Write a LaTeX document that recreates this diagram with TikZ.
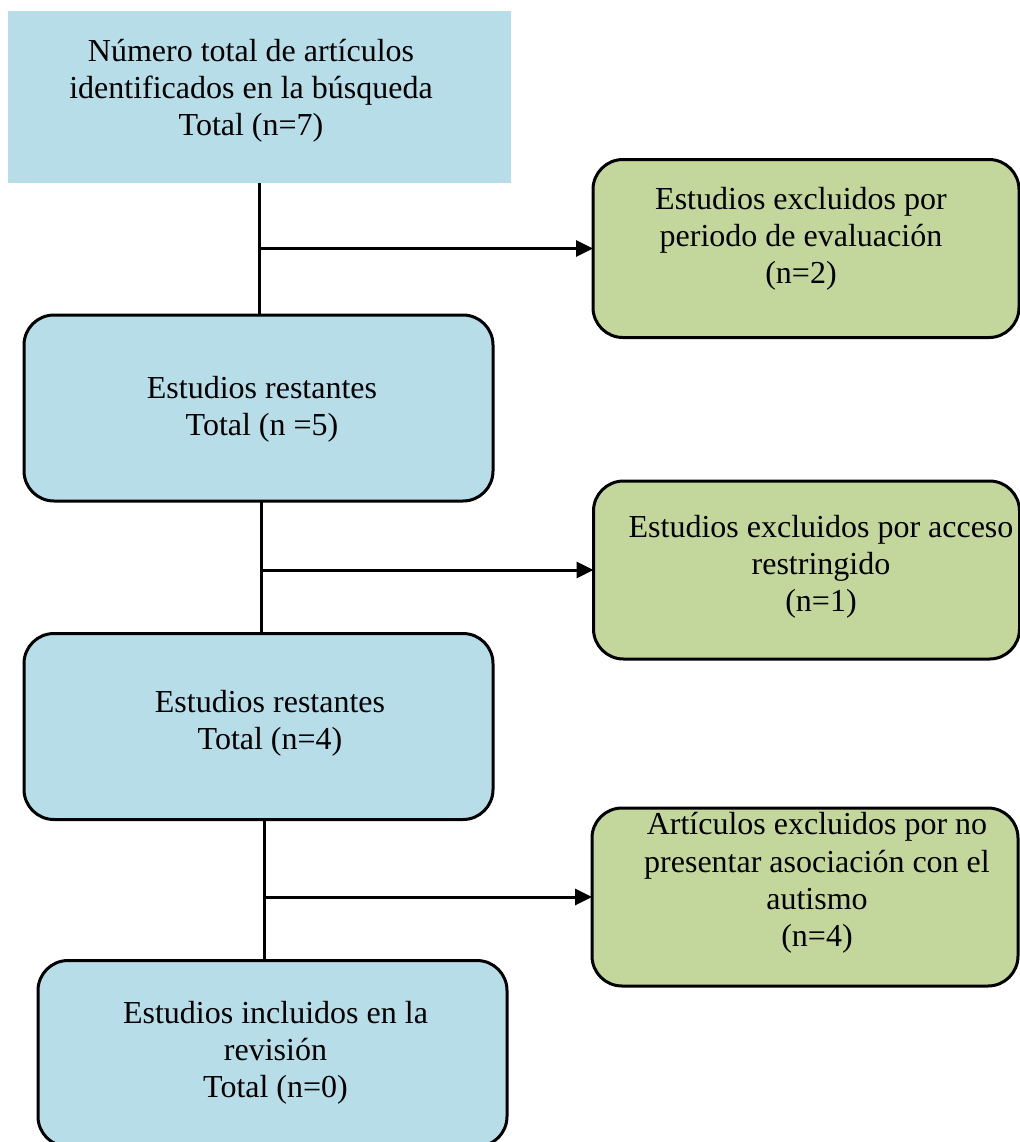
\documentclass[tikz,border=0pt]{standalone}
\usepackage{fontspec}
\setmainfont{Liberation Serif}
\usetikzlibrary{arrows.meta}
\definecolor{azul}{HTML}{B7DDE8}
\definecolor{verde}{HTML}{C3D69B}

\begin{document}
\begin{tikzpicture}[x=0.5pt, y=-0.5pt,
  every node/.style={inner sep=0pt, outer sep=0pt},
  caja/.style={draw, line width=1.5pt, rounded corners=15pt},
  azulbox/.style={caja, fill=azul, minimum width=234.5pt, minimum height=93pt},
  verdebox/.style={caja, fill=verde, minimum width=213pt, minimum height=89pt},
  txt/.style={align=center, font=\fontsize{16}{18.6}\selectfont},
  lin/.style={line width=1.5pt},
  fl/.style={lin, -{Triangle[length=8.5pt, width=8pt]}}]
\useasboundingbox (0,0) rectangle (1019,1142);
% cajas
\node[fill=azul, minimum width=251.5pt, minimum height=86pt] (tot) at (259.5,97) {};
\node[verdebox] (exc1) at (806,248.5) {};
\node[azulbox] (res1) at (258.5,408) {};
\node[verdebox] (exc2) at (806.5,570) {};
\node[azulbox] (res2) at (258.5,726.5) {};
\node[verdebox] (exc3) at (805,897) {};
\node[azulbox] (inc) at (272.5,1053.5) {};
% textos
\node[txt] (tot-t)  at (251,91)  {Número total de artículos\\identificados en la búsqueda\\Total (n=7)};
\node[txt] (exc1-t) at (801,239) {Estudios excluidos por\\periodo de evaluación\\(n=2)};
\node[txt] (res1-t) at (262,409) {Estudios restantes\\Total (n =5)};
\node[txt] (exc2-t) at (821,567) {Estudios excluidos por acceso\\restringido\\(n=1)};
\node[txt] (res2-t) at (270,723) {Estudios restantes\\Total (n=4)};
\node[txt] (exc3-t) at (817,883) {Artículos excluidos por no\\presentar asociación con el\\autismo\\(n=4)};
\node[txt] (inc-t)  at (275.5,1053) {Estudios incluidos en la\\revisión\\Total (n=0)};
% conectores
\draw[lin] (tot.south) -- (tot.south |- res1.north);
\draw[fl] (tot.south |- exc1.west) -- (exc1.west);
\draw[lin] ([xshift=1.5pt]res1.south) -- ([xshift=1.5pt]res1.south |- res2.north);
\draw[fl] ([xshift=1.5pt]res1.south |- exc2.west) -- (exc2.west);
\draw[lin] ([xshift=3pt]res2.south) -- ([xshift=3pt]res2.south |- inc.north);
\draw[fl] ([xshift=3pt]res2.south |- exc3.west) -- (exc3.west);
\end{tikzpicture}
\end{document}
